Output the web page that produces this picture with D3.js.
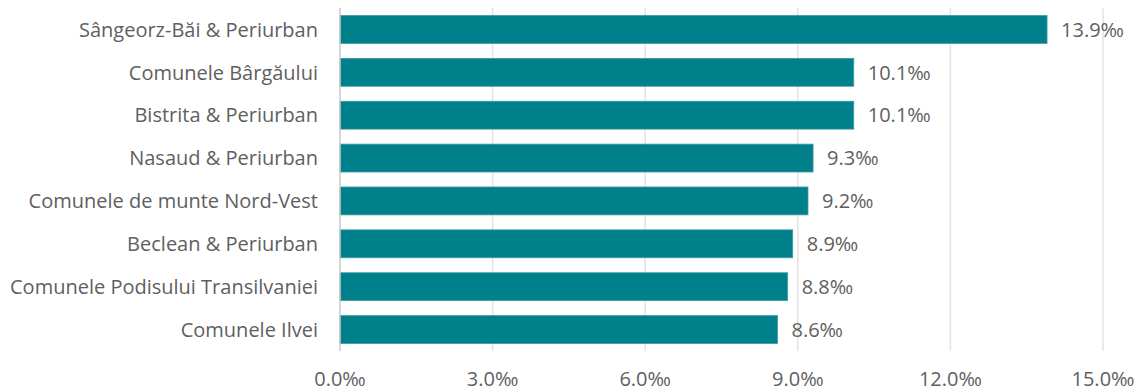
<!DOCTYPE html>
<html><head><meta charset="utf-8">
<script src="https://cdn.jsdelivr.net/npm/d3@7"></script>
<style>
html,body{margin:0;padding:0;background:#fff;}
text{font-family:"Open Sans",sans-serif;fill:#606060;}
</style></head>
<body><svg id="c" width="1140" height="392"></svg>
<script>
const categories = ["Sângeorz-Băi & Periurban","Comunele Bârgăului","Bistrita & Periurban","Nasaud & Periurban","Comunele de munte Nord-Vest","Beclean & Periurban","Comunele Podisului Transilvaniei","Comunele Ilvei"];
const values = [13.9,10.1,10.1,9.3,9.2,8.9,8.8,8.6];
const ticks = [0,3,6,9,12,15];
const fmt = v => v.toFixed(1) + "‰";

const svg = d3.select("#c");
const x = d3.scaleLinear().domain([0,15]).range([340,1103]);
const y = d3.scaleBand().domain(categories).range([8,351]).paddingInner(0.35).paddingOuter(0.175);

svg.append("g").selectAll("line").data(ticks.slice(1)).join("line")
  .attr("x1",d=>x(d)).attr("x2",d=>x(d)).attr("y1",8).attr("y2",351)
  .attr("stroke","#e3e3e3").attr("stroke-width",1.5);

svg.append("g").selectAll("rect").data(values).join("rect")
  .attr("x",x(0)).attr("y",(d,i)=>y(categories[i]))
  .attr("width",d=>x(d)-x(0)).attr("height",y.bandwidth())
  .attr("fill","#00808A").attr("stroke","#3a9aa2").attr("stroke-width",0.8);

svg.append("line").attr("x1",x(0)).attr("x2",x(0)).attr("y1",8).attr("y2",351)
  .attr("stroke","#c8c8c8").attr("stroke-width",1.5);

svg.append("g").selectAll("text").data(values).join("text")
  .attr("x",d=>x(d)+14).attr("y",(d,i)=>y(categories[i])+y.bandwidth()/2)
  .attr("dy","0.36em").attr("font-size",20).text(fmt);

svg.append("g").selectAll("text").data(categories).join("text")
  .attr("x",318).attr("y",d=>y(d)+y.bandwidth()/2).attr("dy","0.36em")
  .attr("text-anchor","end").attr("font-size",20).text(d=>d);

svg.append("g").selectAll("text").data(ticks).join("text")
  .attr("x",d=>x(d)).attr("y",379).attr("dy","0.36em")
  .attr("text-anchor","middle").attr("font-size",20).text(fmt);
</script></body></html>
